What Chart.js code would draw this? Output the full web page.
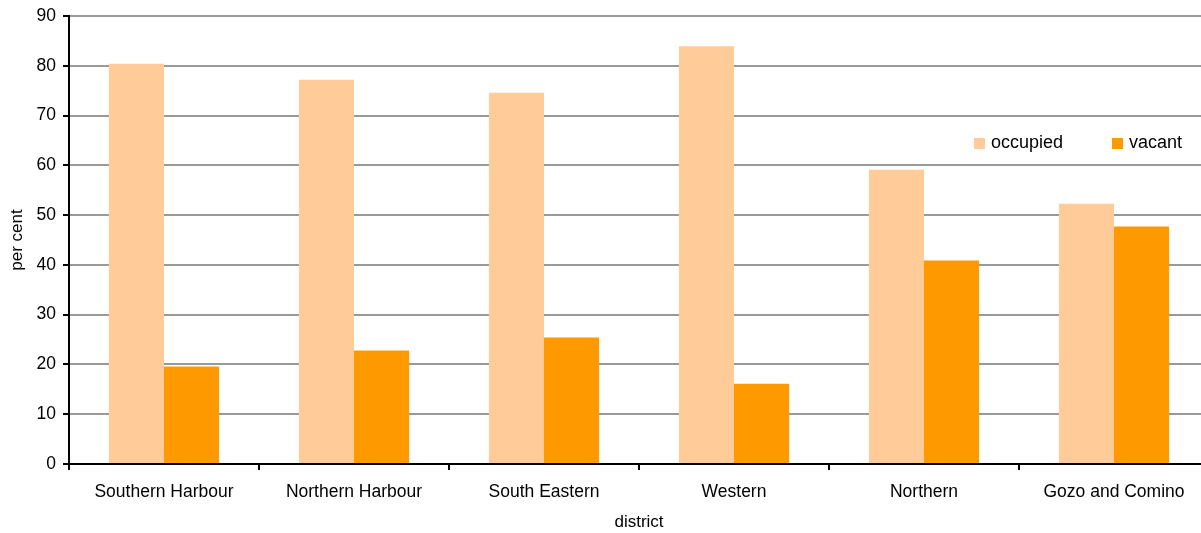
<!DOCTYPE html>
<html>
<head>
<meta charset="utf-8">
<script src="https://cdn.jsdelivr.net/npm/chart.js"></script>
<style>
  html, body { margin: 0; padding: 0; background: #fff; }
  #wrap { position: relative; width: 1201px; height: 533px; overflow: hidden; }
  #legend { position: absolute; left: 974px; top: 132px; font: 18px "Liberation Sans", Arial, sans-serif; color: #000; }
  #legend span.item { position: absolute; white-space: nowrap; top: 0; }
  #legend i { display: inline-block; width: 11px; height: 11px; margin-right: 6px; vertical-align: -1px; }
</style>
</head>
<body>
<div id="wrap">
  <canvas id="myChart" width="1210" height="533"></canvas>
  <div id="legend"></div>
</div>
<script>
var districts = ['Southern Harbour', 'Northern Harbour', 'South Eastern', 'Western', 'Northern', 'Gozo and Comino'];
var occupied = [80.4, 77.2, 74.6, 83.9, 59.1, 52.3];
var vacant = [19.6, 22.8, 25.4, 16.1, 40.9, 47.7];
var seriesNames = ['occupied', 'vacant'];
var seriesColors = ['#ffcc99', '#ff9900'];

var font = "'Liberation Sans', Arial, sans-serif";

var ctx = document.getElementById('myChart').getContext('2d');
var chart = new Chart(ctx, {
    type: 'bar',
    data: {
        labels: districts,
        datasets: [{
            label: seriesNames[0],
            backgroundColor: seriesColors[0],
            data: occupied
        },
        {
            label: seriesNames[1],
            backgroundColor: seriesColors[1],
            data: vacant
        }]
    },
    options: {
        responsive: false,
        animation: false,
        layout: { padding: { top: 16, right: 1, left: 0, bottom: 0 } },
        plugins: {
            legend: { display: false },
            tooltip: { enabled: false }
        },
        datasets: {
            bar: { categoryPercentage: 0.58, barPercentage: 1.0 }
        },
        scales: {
            x: {
                grid: { display: true, drawOnChartArea: false, tickLength: 6, tickColor: '#000', lineWidth: 2 },
                border: { color: '#000', width: 2 },
                ticks: { color: '#000', font: { family: font, size: 17.5 }, padding: 12, maxRotation: 0 },
                title: { display: true, text: 'district', color: '#000', font: { family: font, size: 17 }, padding: { top: 0, bottom: 0 } },
                afterFit: function (scale) { scale.height = 69; }
            },
            y: {
                min: 0,
                max: 90,
                ticks: { stepSize: 10, color: '#000', font: { family: font, size: 17.5, lineHeight: 1 }, padding: 7 },
                grid: { color: '#999', lineWidth: 2, tickLength: 6, tickColor: '#000' },
                border: { color: '#000', width: 2 },
                title: { display: true, text: 'per cent', color: '#000', font: { family: font, size: 17 }, padding: { top: 7, bottom: 0 } },
                afterFit: function (scale) { scale.width = 69; }
            }
        }
    }
});

// legend drawn as html over the plot
var legend = document.getElementById('legend');
var offsets = [0, 138];
for (var i = 0; i < seriesNames.length; i++) {
    var item = document.createElement('span');
    item.className = 'item';
    item.style.left = offsets[i] + 'px';
    item.innerHTML = '<i style="background:' + seriesColors[i] + '"></i>' + seriesNames[i];
    legend.appendChild(item);
}
</script>
</body>
</html>
